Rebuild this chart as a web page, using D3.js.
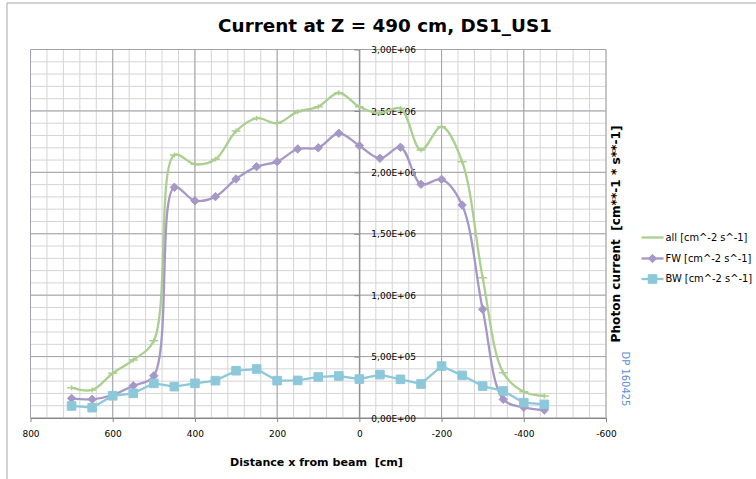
<!DOCTYPE html>
<html>
<head>
<meta charset="utf-8">
<script src="https://cdn.jsdelivr.net/npm/d3@7"></script>
<style>
  body { margin: 0; background: #fff; }
  svg { display: block; }
</style>
</head>
<body>
<main></main>
<script>
// ---- data ----
const xPositions = [700, 650, 600, 550, 500, 450, 400, 350, 300, 250, 200, 150,
                    100, 50, 0, -50, -100, -150, -200, -250, -300, -350, -400, -450];
const allValues = [247e3, 228e3, 364e3, 472e3, 629e3, 2141e3, 2065e3, 2106e3, 2336e3, 2440e3, 2400e3, 2494e3,
                   2534e3, 2648e3, 2534e3, 2480e3, 2521e3, 2182e3, 2372e3, 2087e3, 1142e3, 369e3, 214e3, 179e3];
const fwValues = [160e3, 152e3, 187e3, 263e3, 344e3, 1878e3, 1769e3, 1802e3, 1946e3, 2046e3, 2087e3, 2190e3,
                  2200e3, 2318e3, 2217e3, 2114e3, 2204e3, 1903e3, 1943e3, 1734e3, 885e3, 152e3, 87e3, 65e3];
const bwValues = [98e3, 84e3, 181e3, 201e3, 282e3, 255e3, 282e3, 304e3, 385e3, 399e3, 304e3, 306e3,
                  334e3, 342e3, 317e3, 353e3, 315e3, 277e3, 423e3, 347e3, 260e3, 220e3, 125e3, 111e3];
const seriesNames = ["all [cm^-2 s^-1]", "FW [cm^-2 s^-1]", "BW [cm^-2 s^-1]"];
const xTickValues = [800, 600, 400, 200, 0, -200, -400, -600];
const yTickValues = [0, 5e5, 1e6, 1.5e6, 2e6, 2.5e6, 3e6];

const width = 756;
const height = 479;
const plot = {left: 30.5, right: 606, top: 49.5, bottom: 418};
const comic = "'Comic Sans MS', 'DejaVu Sans', sans-serif";
const colors = {all: '#aacf8f', fw: '#a598c7', bw: '#8cc8da'};

const svg = d3.select('main')
              .append('svg')
              .attr('width', width)
              .attr('height', height);

// chart frame (only top and left edges visible in the reference)
svg.append('path')
   .attr('d', `M7,${height}V3H${width}`)
   .attr('fill', 'none')
   .attr('stroke', '#a6a6a6');

const x = d3.scaleLinear().domain([800, -600]).range([plot.left, plot.right]);
const y = d3.scaleLinear().domain([0, 3e6]).range([plot.bottom, plot.top]);

// grid: minor first, then major on top
const minorX = d3.range(800, -600 - 1, -40);
const minorY = d3.range(0, 3e6 + 1, 1e5);
const grid = svg.append('g');
grid.selectAll('line.mx').data(minorX).enter().append('line')
    .attr('x1', d => x(d)).attr('x2', d => x(d))
    .attr('y1', plot.top).attr('y2', plot.bottom)
    .attr('stroke', '#d4d4d4');
grid.selectAll('line.my').data(minorY).enter().append('line')
    .attr('y1', d => y(d)).attr('y2', d => y(d))
    .attr('x1', plot.left).attr('x2', plot.right)
    .attr('stroke', '#d4d4d4');
grid.selectAll('line.Mx').data(xTickValues).enter().append('line')
    .attr('x1', d => x(d)).attr('x2', d => x(d))
    .attr('y1', plot.top).attr('y2', plot.bottom)
    .attr('stroke', '#a3a3ab');
grid.selectAll('line.My').data(yTickValues).enter().append('line')
    .attr('y1', d => y(d)).attr('y2', d => y(d))
    .attr('x1', plot.left).attr('x2', plot.right)
    .attr('stroke', '#a3a3ab');

// axes
const sciFormat = v => {
  const [m, e] = v.toExponential(2).split('e');
  return m.replace('.', ',') + 'E' + e[0] + e.slice(1).padStart(2, '0');
};

const xAxis = svg.append('g')
   .attr('transform', `translate(0,${plot.bottom})`)
   .call(d3.axisBottom(x).tickValues(xTickValues).tickFormat(d => String(d))
           .tickSizeInner(4).tickSizeOuter(0).tickPadding(9));

const yAxis = svg.append('g')
   .attr('transform', `translate(${x(0)},0)`)
   .call(d3.axisRight(y).tickValues(yTickValues).tickFormat(sciFormat)
           .tickSizeInner(-5).tickSizeOuter(0).tickPadding(12));

[xAxis, yAxis].forEach(a => {
  a.select('.domain').attr('stroke', '#868686');
  a.selectAll('.tick line').attr('stroke', '#868686');
  a.selectAll('text')
   .attr('fill', '#000')
   .style('font-family', "'DejaVu Sans', sans-serif")
   .style('font-size', '9px');
});
yAxis.selectAll('text').attr('dy', '0.35em');

// series
const points = vals => vals.map((v, i) => [xPositions[i], v]);
// centripetal catmull-rom keeps the overshoot small, like excel's smoothing here
const smooth = d3.line().x(d => x(d[0])).y(d => y(d[1])).curve(d3.curveCatmullRom.alpha(0.5));
const straight = d3.line().x(d => x(d[0])).y(d => y(d[1]));

const diamond = 'M0,-4.2L4.2,0L0,4.2L-4.2,0Z';
const square = 'M-4.3,-4.3H4.3V4.3H-4.3Z';
const plus = 'M-4.5,0H4.5M0,-2.5V2.5';

const series = [
  {name: seriesNames[0], vals: allValues, color: colors.all, line: smooth, marker: plus, filled: false},
  {name: seriesNames[1], vals: fwValues, color: colors.fw, line: smooth, marker: diamond, filled: true},
  {name: seriesNames[2], vals: bwValues, color: colors.bw, line: straight, marker: square, filled: true}
];

series.forEach(s => {
  const g = svg.append('g');
  g.append('path')
   .attr('d', s.line(points(s.vals)))
   .attr('fill', 'none')
   .attr('stroke', s.color)
   .attr('stroke-width', 2.3)
   .attr('stroke-linejoin', 'round');
  g.selectAll('path.m')
   .data(points(s.vals))
   .enter()
   .append('path')
   .attr('transform', d => `translate(${x(d[0])},${y(d[1])})`)
   .attr('d', s.marker)
   .attr('fill', s.filled ? s.color : 'none')
   .attr('stroke', s.color)
   .attr('stroke-width', s.filled ? 1 : 1.5);
});

// scale a text element's font so it spans the target width
const fitText = (sel, target) => {
  const size = parseFloat(sel.style('font-size'));
  const w = sel.node().getComputedTextLength();
  sel.style('font-size', (size * target / w).toFixed(2) + 'px');
};

// titles
const title = svg.append('text')
   .attr('x', 385).attr('y', 32)
   .attr('text-anchor', 'middle')
   .style('font-family', comic).style('font-weight', 'bold').style('font-size', '18px')
   .text('Current at Z = 490 cm, DS1_US1');
fitText(title, 334);

const xTitle = svg.append('text')
   .attr('x', 316.5).attr('y', 466)
   .attr('text-anchor', 'middle')
   .style('white-space', 'pre')
   .style('font-family', comic).style('font-weight', 'bold').style('font-size', '11px')
   .text('Distance x from beam  [cm]');
fitText(xTitle, 173);

const yTitle = svg.append('text')
   .attr('transform', 'translate(620,234) rotate(-90)')
   .attr('text-anchor', 'middle')
   .style('white-space', 'pre')
   .style('font-family', comic).style('font-weight', 'bold').style('font-size', '11px')
   .text('Photon current  [cm**-1 * s**-1]');
fitText(yTitle, 217);

const stamp = svg.append('text')
   .attr('transform', 'translate(622,379) rotate(90)')
   .attr('text-anchor', 'middle')
   .attr('fill', '#5b8fd2')
   .style('font-family', "'DejaVu Sans', sans-serif").style('font-size', '10px')
   .text('DP 160425');
fitText(stamp, 55);

// legend
const legendY = [237.5, 258.5, 279];
const legend = svg.append('g');
series.forEach((s, i) => {
  const row = legend.append('g').attr('transform', `translate(0,${legendY[i]})`);
  row.append('line')
     .attr('x1', 641.5).attr('x2', 663.5)
     .attr('stroke', s.color).attr('stroke-width', 2.3);
  if (s.filled) {
    row.append('path')
       .attr('transform', 'translate(652.5,0)')
       .attr('d', s.marker)
       .attr('fill', s.color)
       .attr('stroke', s.color)
       .attr('stroke-width', 1);
  }
  const t = row.append('text')
     .attr('x', 665.5).attr('dy', '0.35em')
     .style('font-family', comic).style('font-size', '10px')
     .text(s.name);
  if (i === 1) fitText(t, 86);
});
const fwSize = legend.selectAll('text').filter((d, i) => i === 1).style('font-size');
legend.selectAll('text').style('font-size', fwSize);
</script>
</body>
</html>
